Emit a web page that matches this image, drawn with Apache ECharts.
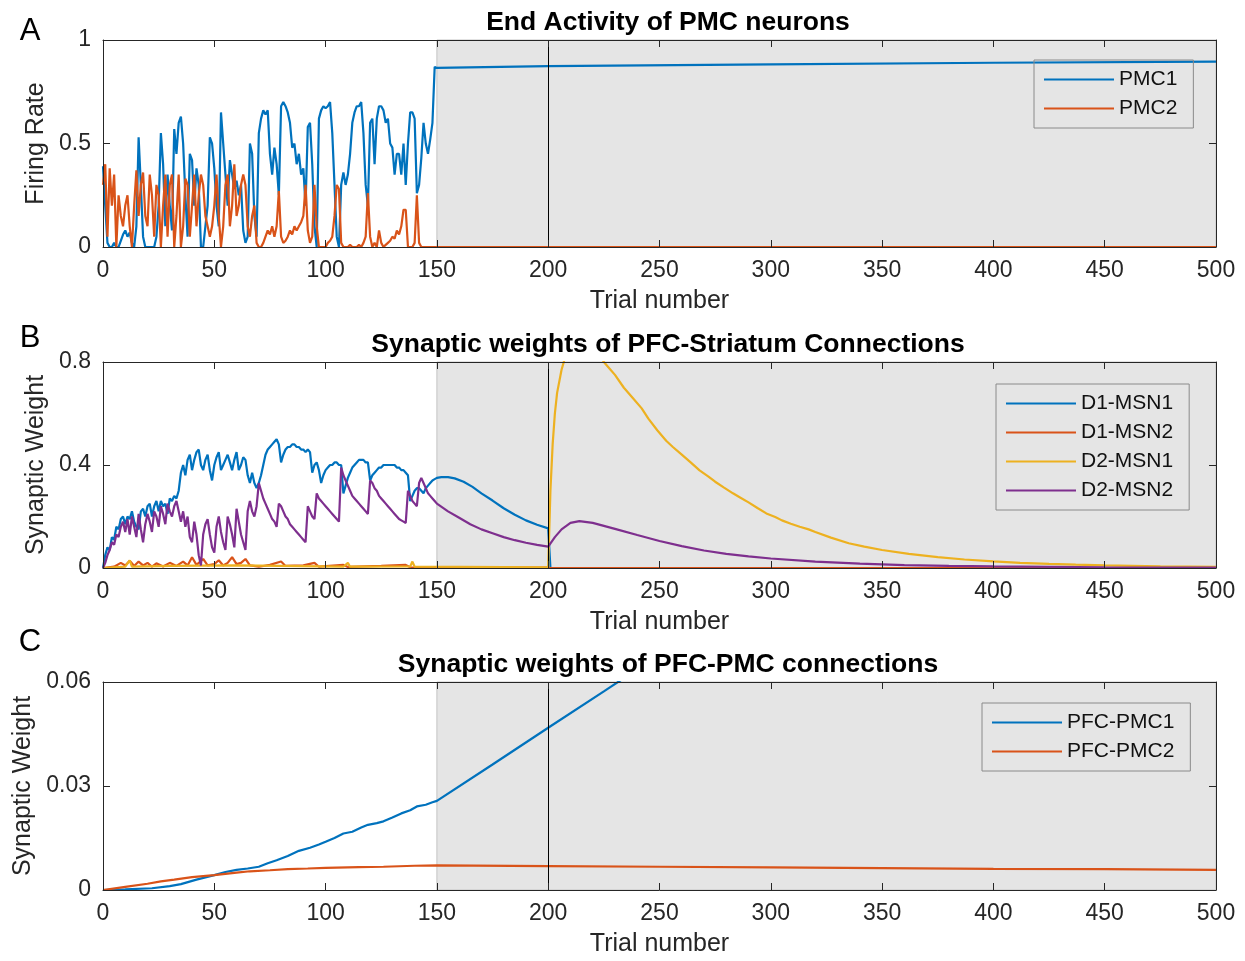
<!DOCTYPE html>
<html>
<head>
<meta charset="utf-8">
<title>PMC / PFC learning</title>
<script src="https://cdn.jsdelivr.net/npm/echarts@6/dist/echarts.min.js"></script>
<style>
  html, body { margin: 0; padding: 0; background: #fff; }
  #chart { width: 1245px; height: 961px; }
</style>
</head>
<body>
<div id="chart"></div>
<script>
// tick labels
var trialTicks = [0, 50, 100, 150, 200, 250, 300, 350, 400, 450, 500];
var rateTicks = [0, 0.5, 1];
var striatumTicks = [0, 0.4, 0.8];
var pmcWeightTicks = [0, 0.03, 0.06];

// shaded phase and the black marker line
var shadeRange = [150, 500];
var markTrial = 200;

// A: end activity, one value per trial for trials 0..150, then the flat part
var pmc1Early = [0.39, 0.2, 0.02, 0, 0, 0.02, 0, 0, 0.03, 0.06,
  0.08, 0.05, 0.07, 0.02, 0, 0.1, 0.53, 0.3, 0.05, 0,
  0, 0, 0, 0, 0.05, 0.2, 0.55, 0.4, 0.1, 0.35,
  0.2, 0.08, 0.57, 0.45, 0.6, 0.63, 0.5, 0.25, 0.05, 0.45,
  0.42, 0.2, 0.38, 0.3, 0, 0, 0.1, 0.2, 0.53, 0.5,
  0.38, 0.2, 0.1, 0.65, 0.5, 0.35, 0.2, 0.42, 0.35, 0.28,
  0.32, 0.25, 0.3, 0.08, 0.02, 0.05, 0.5, 0.45, 0.15, 0.05,
  0.55, 0.62, 0.66, 0.64, 0.66, 0.45, 0.35, 0.48, 0.4, 0.25,
  0.68, 0.7, 0.68, 0.65, 0.6, 0.48, 0.5, 0.4, 0.45, 0.35,
  0.38, 0.2, 0.58, 0.6, 0.4, 0.1, 0, 0.62, 0.66, 0.68,
  0.67, 0.68, 0.7, 0.55, 0.3, 0.05, 0, 0.3, 0.36, 0.3,
  0.35, 0.45, 0.6, 0.65, 0.68, 0.68, 0.7, 0.55, 0.3, 0.2,
  0.6, 0.62, 0.4, 0.62, 0.68, 0.68, 0.66, 0.6, 0.62, 0.5,
  0.48, 0.35, 0.45, 0.45, 0.35, 0.5, 0.3, 0.5, 0.65, 0.65,
  0.62, 0.26, 0.3, 0.43, 0.6, 0.5, 0.45, 0.52, 0.6, 0.87,
  0.865];
var pmc1Late = [[200, 0.874], [300, 0.882], [400, 0.89], [500, 0.896]];

var pmc2Early = [0.3, 0.4, 0.05, 0.38, 0.2, 0.35, 0, 0.25, 0.15, 0.1,
  0.2, 0.25, 0.1, 0, 0.2, 0.37, 0.15, 0.3, 0.36, 0.15,
  0.1, 0.35, 0.25, 0.05, 0.3, 0.25, 0, 0.2, 0.35, 0.05,
  0.3, 0.35, 0, 0.15, 0.35, 0, 0.1, 0.33, 0.3, 0.05,
  0.2, 0.35, 0.1, 0.25, 0.35, 0.3, 0.15, 0.1, 0.05, 0.1,
  0.2, 0.35, 0.15, 0, 0.1, 0.3, 0.35, 0.1, 0.2, 0.4,
  0.15, 0.2, 0.3, 0.35, 0.3, 0.1, 0.05, 0.15, 0.2, 0.02,
  0, 0, 0.02, 0.05, 0.08, 0.06, 0.1, 0.05, 0.1, 0.27,
  0.05, 0.02, 0.03, 0.05, 0.08, 0.06, 0.1, 0.08, 0.1, 0.12,
  0.15, 0.3, 0.08, 0.02, 0.05, 0.3, 0.1, 0, 0, 0,
  0, 0.02, 0.03, 0.05, 0.15, 0.3, 0.28, 0.02, 0, 0,
  0, 0.01, 0, 0, 0, 0.01, 0, 0.02, 0.05, 0.26,
  0.05, 0, 0.02, 0, 0.08, 0.02, 0, 0.01, 0.02, 0.03,
  0.05, 0.04, 0.08, 0.06, 0.1, 0.18, 0.18, 0, 0, 0,
  0.02, 0.25, 0.02, 0, 0, 0, 0, 0, 0, 0,
  0];
var pmc2Late = [[500, 0]];

// B: PFC-striatum weights, [trial, weight]
var d1msn1 = [[0, 0], [1, 0.05], [2, 0.08], [3, 0.07], [4, 0.12], [5, 0.11], [6, 0.16], [7, 0.15], [8, 0.19], [9, 0.2],
  [10, 0.17], [11, 0.2], [12, 0.19], [13, 0.22], [14, 0.18], [15, 0.16], [16, 0.15], [17, 0.22], [18, 0.23], [19, 0.2],
  [20, 0.24], [21, 0.25], [22, 0.2], [23, 0.24], [24, 0.26], [25, 0.22], [26, 0.26], [27, 0.24], [28, 0.25], [29, 0.21],
  [30, 0.27], [31, 0.26], [32, 0.28], [33, 0.27], [34, 0.3], [35, 0.37], [36, 0.4], [37, 0.36], [38, 0.42], [39, 0.44],
  [40, 0.38], [41, 0.42], [42, 0.45], [43, 0.46], [44, 0.4], [45, 0.38], [46, 0.42], [47, 0.44], [48, 0.38], [49, 0.34],
  [50, 0.4], [51, 0.43], [52, 0.45], [53, 0.38], [54, 0.4], [55, 0.42], [56, 0.44], [57, 0.41], [58, 0.38], [59, 0.42],
  [60, 0.45], [61, 0.38], [62, 0.4], [63, 0.43], [64, 0.42], [65, 0.36], [66, 0.33], [67, 0.37], [68, 0.33], [69, 0.31],
  [70, 0.33], [71, 0.36], [72, 0.4], [73, 0.44], [74, 0.46], [75, 0.47], [76, 0.48], [77, 0.49], [78, 0.5], [79, 0.48],
  [80, 0.41], [81, 0.44], [82, 0.46], [83, 0.47], [84, 0.47], [85, 0.48], [86, 0.48], [87, 0.47], [88, 0.47], [89, 0.46],
  [90, 0.46], [91, 0.45], [92, 0.46], [93, 0.45], [94, 0.37], [95, 0.4], [96, 0.41], [97, 0.38], [98, 0.33], [99, 0.36],
  [100, 0.38], [101, 0.39], [102, 0.4], [103, 0.4], [104, 0.41], [105, 0.41], [106, 0.4], [107, 0.4], [108, 0.29], [109, 0.32],
  [110, 0.35], [111, 0.37], [112, 0.39], [113, 0.4], [114, 0.41], [115, 0.42], [116, 0.42], [117, 0.42], [118, 0.41], [119, 0.41],
  [120, 0.34], [121, 0.36], [122, 0.37], [123, 0.38], [124, 0.39], [125, 0.39], [126, 0.4], [127, 0.4], [128, 0.4], [129, 0.4],
  [130, 0.4], [131, 0.4], [132, 0.39], [133, 0.39], [134, 0.38], [135, 0.38], [136, 0.37], [137, 0.36], [138, 0.26], [139, 0.28],
  [140, 0.3], [141, 0.31], [142, 0.31], [143, 0.3], [144, 0.29], [145, 0.31], [146, 0.32], [147, 0.33], [148, 0.34], [149, 0.345],
  [150, 0.35], [152, 0.353], [155, 0.353], [158, 0.348], [162, 0.335], [166, 0.315], [170, 0.29], [175, 0.262], [180, 0.232],
  [185, 0.207], [190, 0.185], [195, 0.168], [200, 0.154], [201, 0], [500, 0]];

var d1msn2 = [[0, 0], [5, 0.005], [8, 0.02], [10, 0.01], [12, 0.028], [14, 0.008], [16, 0.025], [18, 0.01], [20, 0.02],
  [22, 0.005], [24, 0.018], [27, 0.006], [30, 0.02], [33, 0.008], [36, 0.025], [38, 0.01], [40, 0.042], [42, 0.012],
  [45, 0.035], [47, 0.01], [50, 0.015], [52, 0.03], [54, 0.01], [56, 0.02], [58, 0.042], [60, 0.015], [62, 0.02],
  [64, 0.035], [66, 0.01], [70, 0.005], [75, 0.012], [80, 0.025], [82, 0.008], [90, 0.01], [95, 0.02], [97, 0.005],
  [108, 0.012], [110, 0.004], [125, 0.008], [136, 0.012], [138, 0.003], [150, 0.002], [200, 0.002], [201, 0], [500, 0]];

var d2msn1 = [[0, 0], [10, 0.005], [12, 0.03], [13, 0.005], [30, 0.008], [60, 0.01], [108, 0.005], [110, 0.02],
  [111, 0.005], [138, 0.006], [139, 0.025], [140, 0.005], [200, 0.003], [201, 0.3], [202, 0.48], [203, 0.6],
  [204, 0.68], [206, 0.77], [208, 0.83], [211, 0.88], [215, 0.9], [219, 0.88], [222, 0.84], [225, 0.8], [228, 0.77],
  [230, 0.75], [234, 0.7], [238, 0.66], [242, 0.62], [245, 0.58], [249, 0.535], [253, 0.494], [256, 0.47], [260, 0.44],
  [264, 0.41], [268, 0.379], [272, 0.355], [275, 0.335], [279, 0.312], [283, 0.29], [286, 0.275], [290, 0.255],
  [294, 0.233], [298, 0.212], [302, 0.198], [305, 0.185], [309, 0.172], [313, 0.16], [317, 0.15], [320, 0.14],
  [327, 0.118], [335, 0.096], [342, 0.083], [350, 0.07], [362, 0.055], [375, 0.042], [387, 0.033], [400, 0.026],
  [412, 0.02], [425, 0.016], [437, 0.013], [450, 0.01], [462, 0.008], [475, 0.006], [487, 0.005], [500, 0.004]];

var d2msn2 = [[0, 0], [1, 0.02], [2, 0.05], [3, 0.07], [4, 0.1], [5, 0.09], [6, 0.13], [7, 0.12], [8, 0.16], [9, 0.18],
  [10, 0.14], [11, 0.19], [12, 0.13], [13, 0.2], [14, 0.16], [15, 0.12], [16, 0.21], [17, 0.15], [18, 0.1], [19, 0.17],
  [20, 0.21], [21, 0.18], [22, 0.14], [23, 0.22], [24, 0.2], [25, 0.16], [26, 0.24], [27, 0.21], [28, 0.17], [29, 0.25],
  [30, 0.22], [31, 0.2], [32, 0.24], [33, 0.26], [34, 0.22], [35, 0.18], [36, 0.22], [37, 0.16], [38, 0.2], [39, 0.12],
  [40, 0.1], [41, 0.18], [42, 0.13], [43, 0.05], [44, 0.01], [45, 0.13], [46, 0.17], [47, 0.19], [48, 0.13], [49, 0.08],
  [50, 0.06], [51, 0.16], [52, 0.2], [53, 0.14], [54, 0.1], [55, 0.07], [56, 0.2], [57, 0.17], [58, 0.13], [59, 0.08],
  [60, 0.23], [61, 0.18], [62, 0.13], [63, 0.1], [64, 0.07], [65, 0.22], [66, 0.26], [67, 0.22], [68, 0.2], [69, 0.24],
  [70, 0.33], [71, 0.3], [72, 0.27], [73, 0.25], [74, 0.23], [75, 0.21], [76, 0.19], [77, 0.18], [78, 0.16], [79, 0.25],
  [80, 0.24], [81, 0.22], [82, 0.2], [83, 0.19], [84, 0.17], [85, 0.16], [86, 0.15], [87, 0.14], [88, 0.13], [89, 0.12],
  [90, 0.11], [91, 0.1], [92, 0.24], [93, 0.22], [94, 0.2], [95, 0.19], [96, 0.29], [97, 0.27], [98, 0.26], [99, 0.25],
  [100, 0.24], [101, 0.23], [102, 0.22], [103, 0.21], [104, 0.2], [105, 0.19], [106, 0.18], [107, 0.39], [108, 0.36], [109, 0.34],
  [110, 0.32], [111, 0.3], [112, 0.28], [113, 0.27], [114, 0.26], [115, 0.25], [116, 0.24], [117, 0.23], [118, 0.22], [119, 0.21],
  [120, 0.34], [121, 0.33], [122, 0.31], [123, 0.3], [124, 0.28], [125, 0.27], [126, 0.26], [127, 0.25], [128, 0.24], [129, 0.23],
  [130, 0.22], [131, 0.21], [132, 0.2], [133, 0.19], [134, 0.185], [135, 0.18], [136, 0.175], [137, 0.3], [138, 0.28], [139, 0.26],
  [140, 0.25], [141, 0.24], [142, 0.33], [143, 0.35], [144, 0.33], [145, 0.31], [146, 0.29], [147, 0.28], [148, 0.27], [149, 0.26],
  [150, 0.25], [155, 0.22], [160, 0.195], [165, 0.17], [170, 0.15], [175, 0.135], [180, 0.12], [185, 0.108], [190, 0.098],
  [195, 0.09], [200, 0.083], [203, 0.12], [206, 0.15], [210, 0.175], [214, 0.182], [220, 0.175], [230, 0.152], [240, 0.128],
  [250, 0.105], [260, 0.085], [270, 0.068], [280, 0.055], [290, 0.045], [300, 0.037], [320, 0.025], [340, 0.017],
  [360, 0.011], [380, 0.008], [400, 0.006], [450, 0.003], [500, 0.002]];

// C: PFC-PMC weights
var pfcPmc1 = [[0, 0], [10, 0.0002], [22, 0.0005], [30, 0.0011], [35, 0.0017], [42, 0.003], [50, 0.0043], [55, 0.0052],
  [60, 0.0058], [65, 0.0062], [70, 0.0067], [74, 0.0077], [78, 0.0086], [83, 0.0098], [88, 0.0113], [93, 0.0122],
  [97, 0.0131], [100, 0.0139], [104, 0.015], [108, 0.0163], [112, 0.0168], [116, 0.018], [119, 0.0188], [123, 0.0193],
  [126, 0.0198], [130, 0.0209], [134, 0.0221], [138, 0.023], [141, 0.0241], [145, 0.0246], [148, 0.0253], [150, 0.0257],
  [175, 0.0362], [200, 0.0468], [225, 0.0573], [250, 0.0679]];
var pfcPmc2 = [[0, 0], [10, 0.0009], [20, 0.0018], [26, 0.0025], [32, 0.003], [40, 0.0037], [50, 0.0043], [60, 0.005],
  [66, 0.0054], [75, 0.0057], [83, 0.006], [92, 0.0062], [100, 0.0064], [115, 0.0066], [126, 0.0067], [140, 0.007],
  [150, 0.0071], [200, 0.0069], [250, 0.0067], [300, 0.0065], [350, 0.0063], [400, 0.0061], [450, 0.006], [500, 0.0058]];

var FONT = 'Liberation Sans, Arial, Helvetica, sans-serif';
var AXIS_COLOR = '#262626';
var C_BLUE = '#0072BD', C_ORANGE = '#D95319', C_YELLOW = '#EDB120', C_PURPLE = '#7E2F8E';

var panels = [
  { top: 40, height: 207, yTicks: rateTicks, yName: 'Firing Rate', yGap: 54, title: 'End Activity of PMC neurons', letter: 'A', letterY: 31 },
  { top: 362, height: 206, yTicks: striatumTicks, yName: 'Synaptic Weight', yGap: 54, title: 'Synaptic weights of PFC-Striatum Connections', letter: 'B', letterY: 338 },
  { top: 682, height: 208, yTicks: pmcWeightTicks, yName: 'Synaptic Weight', yGap: 67, title: 'Synaptic weights of PFC-PMC connections', letter: 'C', letterY: 642 }
];

var grids = [], xAxes = [], yAxes = [], series = [], graphics = [];

function tickCfg () {
  return { show: true, inside: true, length: 7, lineStyle: { color: AXIS_COLOR, width: 1 } };
}

panels.forEach(function (p, g) {
  grids.push({ left: 103, right: 29, top: p.top, height: p.height });
  var xBase = {
    gridIndex: g, type: 'value', min: trialTicks[0], max: trialTicks[trialTicks.length - 1],
    interval: trialTicks[1] - trialTicks[0], z: 10,
    axisLine: { onZero: false, lineStyle: { color: AXIS_COLOR, width: 1 } },
    axisTick: tickCfg(), splitLine: { show: false }
  };
  xAxes.push(Object.assign({}, xBase, {
    position: 'bottom',
    axisLabel: { color: AXIS_COLOR, fontSize: 23, fontFamily: FONT, margin: 12 },
    name: 'Trial number', nameLocation: 'middle', nameGap: 42,
    nameTextStyle: { color: AXIS_COLOR, fontSize: 25, fontFamily: FONT }
  }));
  xAxes.push(Object.assign({}, xBase, { position: 'top', axisLabel: { show: false } }));

  var yBase = {
    gridIndex: g, type: 'value', min: p.yTicks[0], max: p.yTicks[p.yTicks.length - 1],
    interval: p.yTicks[1] - p.yTicks[0], z: 10,
    axisLine: { show: true, onZero: false, lineStyle: { color: AXIS_COLOR, width: 1 } },
    axisTick: tickCfg(), splitLine: { show: false }
  };
  yAxes.push(Object.assign({}, yBase, {
    position: 'left',
    axisLabel: { color: AXIS_COLOR, fontSize: 23, fontFamily: FONT, margin: 12 },
    name: p.yName, nameLocation: 'middle', nameGap: p.yGap,
    nameTextStyle: { color: AXIS_COLOR, fontSize: 25, fontFamily: FONT }
  }));
  yAxes.push(Object.assign({}, yBase, { position: 'right', axisLabel: { show: false } }));

  // gray phase + black line at trial 200
  series.push({
    type: 'line', xAxisIndex: 2 * g, yAxisIndex: 2 * g, data: [], z: 1, silent: true,
    markArea: {
      silent: true,
      itemStyle: { color: '#e5e5e5', borderColor: '#c4c4c4', borderWidth: 1 },
      data: [[{ xAxis: shadeRange[0] }, { xAxis: shadeRange[1] }]]
    }
  });
  series.push({
    type: 'line', xAxisIndex: 2 * g, yAxisIndex: 2 * g, data: [], z: 2, silent: true,
    markLine: {
      silent: true, symbol: ['none', 'none'], label: { show: false },
      lineStyle: { color: '#000', width: 1, type: 'solid' },
      data: [{ xAxis: markTrial }]
    }
  });

  graphics.push({
    type: 'text', x: 668, y: p.top - 17,
    style: { text: p.title, fontSize: 26.5, fontWeight: 'bold', fontFamily: FONT, fill: '#000', align: 'center', verticalAlign: 'middle' }
  });
  graphics.push({
    type: 'text', x: 30, y: p.letterY,
    style: { text: p.letter, fontSize: 31, fontFamily: FONT, fill: '#000', align: 'center', verticalAlign: 'middle' }
  });
});

function lineSeries (name, g, color, data) {
  return {
    name: name, type: 'line', xAxisIndex: 2 * g, yAxisIndex: 2 * g, data: data,
    showSymbol: false, symbol: 'none', z: 3, clip: true,
    lineStyle: { color: color, width: 2.2 }, itemStyle: { color: color }
  };
}

series.push(lineSeries('PMC1', 0, C_BLUE, pmc1Early.map(function (v, i) { return [i, v]; }).concat(pmc1Late)));
series.push(lineSeries('PMC2', 0, C_ORANGE, pmc2Early.map(function (v, i) { return [i, v]; }).concat(pmc2Late)));
series.push(lineSeries('D1-MSN1', 1, C_BLUE, d1msn1));
series.push(lineSeries('D1-MSN2', 1, C_ORANGE, d1msn2));
series.push(lineSeries('D2-MSN1', 1, C_YELLOW, d2msn1));
series.push(lineSeries('D2-MSN2', 1, C_PURPLE, d2msn2));
series.push(lineSeries('PFC-PMC1', 2, C_BLUE, pfcPmc1));
series.push(lineSeries('PFC-PMC2', 2, C_ORANGE, pfcPmc2));

function legendCfg (names, left, top) {
  return {
    data: names, left: left, top: top, orient: 'vertical',
    icon: 'rect', itemWidth: 70, itemHeight: 2, itemGap: 8,
    padding: [9, 16, 9, 10], borderColor: '#8a8a8a', borderWidth: 1,
    backgroundColor: 'transparent', selectedMode: false,
    textStyle: { color: '#111', fontSize: 21, fontFamily: FONT }
  };
}

var chart = echarts.init(document.getElementById('chart'), null, { renderer: 'canvas' });
chart.setOption({
  animation: false,
  backgroundColor: '#fff',
  grid: grids,
  xAxis: xAxes,
  yAxis: yAxes,
  legend: [
    legendCfg(['PMC1', 'PMC2'], 1034, 60),
    legendCfg(['D1-MSN1', 'D1-MSN2', 'D2-MSN1', 'D2-MSN2'], 996, 384),
    legendCfg(['PFC-PMC1', 'PFC-PMC2'], 982, 703)
  ],
  graphic: graphics,
  series: series
});
</script>
</body>
</html>
